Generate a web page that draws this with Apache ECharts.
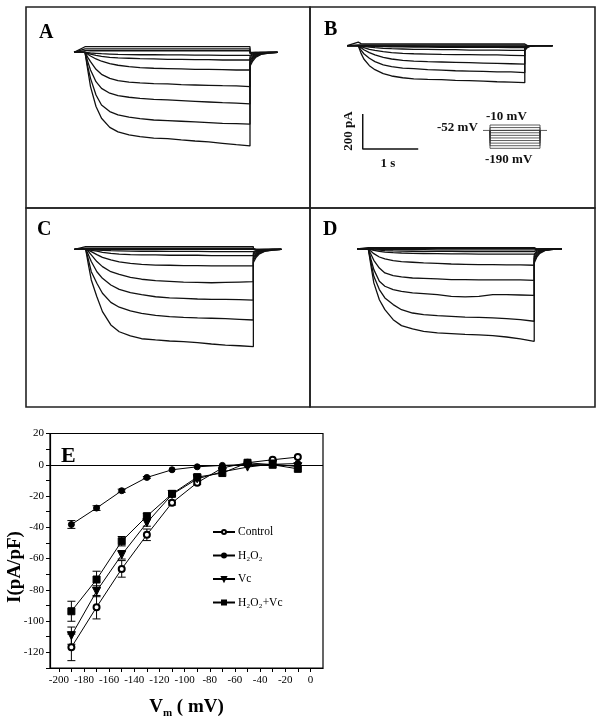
<!DOCTYPE html>
<html><head><meta charset="utf-8">
<script src="https://cdn.jsdelivr.net/npm/echarts@6/dist/echarts.min.js"></script>
<style>html,body{margin:0;padding:0;background:#fff}#c{width:600px;height:723px}</style>
</head><body><div id="c"></div>
<script>
// ---------- Panel E : I-V relation (pA/pF) ----------
const vm = [-190,-170,-150,-130,-110,-90,-70,-50,-30,-10];
const iControl = [-116.8,-91.1,-66.6,-44.8,-24.3,-11.5,-2,1.3,3.2,4.9];
const iH2O2    = [-38.2,-27.7,-16.6,-8.1,-3.2,-1.3,-0.4,0.2,0.3,0.8];
const iVc      = [-109.3,-80.9,-57.6,-37.1,-19,-9,-4.5,-1.5,0.5,-1.2];
const iH2O2Vc  = [-93.7,-73.4,-48.9,-32.9,-18.6,-7.9,-5.3,1.3,0,-2.6];
const eControl = [8.5,7.5,5.3,3.7,1.5,1,0,0,0,0];
const eH2O2    = [2.5,1.5,1,0.6,0,0,0,0,0,0];
const eVc      = [5.5,3.5,2.7,2.2,1,0,0,0,0,0];
const eH2O2Vc  = [6.4,5.3,3,1.8,1,0,0,0,0,0];
const xTickLabels = [-200,-180,-160,-140,-120,-100,-80,-60,-40,-20,0];
const xTicks = [-200,-190,-180,-170,-160,-150,-140,-130,-120,-110,-100,-90,-80,-70,-60,-50,-40,-30,-20,-10,0];

// ---------- Panels A-D : current traces (pA) ----------
const stepVoltages = [-190,-170,-150,-130,-110,-90,-70,-50,-30,-10];
const stepTime = [0,0.05,0.1,0.2,0.3,0.45,0.6,0.8,1,1.25,1.5,1.75,2,2.25,2.5,2.75,3];
const tailTime = [3,3.05,3.1,3.2,3.35,3.5];
const holdingStart = -0.2;

const stepsA = [
 [0,-101,-196,-310,-377,-429,-455,-472,-482,-490,-493,-501,-507,-512,-520,-528,-535],
 [0,-82,-149,-244,-301,-339,-358,-371,-379,-387,-390,-394,-398,-402,-406,-408,-411],
 [0,-53,-101,-168,-206,-234,-248,-257,-263,-269,-272,-276,-280,-284,-288,-291,-295],
 [0,-29,-53,-97,-126,-149,-162,-170,-175,-179,-181,-185,-187,-189,-191,-192,-196],
 [0,-11,-21,-38,-51,-65,-74,-82,-88,-91,-93,-95,-97,-97,-99,-101,-101],
 [0,-6,-10,-17,-23,-29,-32,-34,-36,-38,-40,-40,-42,-42,-44,-44,-44],
 [0,-2,-4,-6,-8,-10,-12,-13,-14,-14,-15,-15,-16,-16,-17,-17,-18],
 [10,10,9,9,9,9,9,9,9,9,9,9,9,9,9,9,9],
 [20,20,20,20,20,20,20,20,20,20,20,20,20,20,20,20,20],
 [32,32,32,32,32,32,32,32,32,32,32,32,32,32,32,32,32]
];
const tailsA = [
 [-80,-50,-30,-12,-4,0],[-68,-42,-25,-10,-3,0],[-56,-35,-20,-8,-2,0],[-45,-28,-16,-6,-2,0],
 [-34,-21,-12,-5,-1,0],[-24,-15,-9,-3,-1,0],[-15,-9,-5,-2,0,0],[-8,-5,-3,-1,0,0],
 [-3,-2,-1,0,0,0],[0,0,0,0,0,0]
];
const stepsB = [
 [0,-44,-76,-114,-137,-160,-173,-183,-189,-192,-194,-198,-200,-202,-206,-208,-211],
 [0,-25,-46,-72,-91,-109,-120,-128,-131,-137,-139,-143,-145,-147,-149,-150,-154],
 [0,-11,-23,-40,-53,-67,-76,-84,-88,-91,-93,-95,-97,-99,-101,-103,-105],
 [0,-6,-11,-21,-27,-34,-40,-44,-46,-48,-50,-51,-51,-53,-53,-55,-57],
 [0,-2,-4,-8,-11,-15,-17,-19,-21,-21,-23,-23,-25,-25,-25,-27,-27],
 [0,-1,-2,-3,-4,-5,-6,-7,-8,-8,-9,-9,-10,-10,-10,-11,-11],
 [0,-1,-1,-2,-2,-3,-3,-4,-4,-4,-5,-5,-5,-5,-6,-6,-6],
 [0,0,0,0,-1,-1,-1,-1,-1,-2,-2,-2,-2,-2,-2,-2,-2],
 [4,4,4,4,4,4,4,4,4,4,4,4,4,4,4,4,4],
 [20,12,10,10,10,10,10,10,10,10,10,10,10,10,10,10,10]
];
const tailsB = [
 [-28,-10,-3,0,0,0],[-22,-8,-2,0,0,0],[-16,-6,-2,0,0,0],[-10,-4,-1,0,0,0],
 [-6,-2,0,0,0,0],[-3,-1,0,0,0,0],[-1,0,0,0,0,0],[0,0,0,0,0,0],[0,0,0,0,0,0],[0,0,0,0,0,0]
];
const stepsC = [
 [0,-90,-175,-271,-356,-432,-471,-495,-511,-518,-524,-528,-533,-541,-547,-551,-556],
 [0,-61,-128,-194,-251,-303,-331,-352,-366,-377,-385,-389,-392,-394,-396,-400,-404],
 [0,-32,-70,-128,-166,-204,-229,-248,-259,-271,-278,-280,-284,-286,-286,-288,-290],
 [0,-13,-32,-70,-99,-128,-143,-160,-171,-179,-183,-187,-189,-191,-189,-187,-185],
 [0,-6,-13,-30,-46,-61,-72,-80,-86,-90,-91,-93,-93,-95,-95,-95,-95],
 [0,-2,-6,-11,-17,-23,-27,-30,-32,-32,-34,-34,-34,-36,-36,-36,-36],
 [0,-1,-2,-4,-6,-8,-9,-10,-11,-11,-12,-12,-12,-13,-13,-13,-13],
 [0,0,0,0,0,0,0,0,0,0,0,0,0,0,0,0,0],
 [6,6,6,6,6,6,6,6,6,6,6,6,6,6,6,6,6],
 [15,15,15,15,15,15,15,15,15,15,15,15,15,15,15,15,15]
];
const tailsC = [
 [-75,-45,-28,-12,-4,0],[-62,-37,-23,-10,-3,0],[-50,-30,-18,-8,-2,0],[-40,-24,-14,-6,-2,0],
 [-30,-18,-10,-4,-1,0],[-20,-12,-7,-3,-1,0],[-12,-7,-4,-2,0,0],[-5,-3,-2,-1,0,0],
 [0,0,0,0,0,0],[0,0,0,0,0,0]
];
const stepsD = [
 [0,-99,-194,-290,-347,-404,-438,-457,-471,-480,-484,-488,-491,-495,-503,-514,-528],
 [0,-80,-156,-232,-280,-318,-347,-366,-375,-381,-385,-389,-391,-394,-398,-404,-413],
 [0,-61,-118,-185,-213,-232,-242,-251,-255,-261,-271,-274,-271,-261,-261,-263,-265],
 [0,-32,-65,-109,-137,-152,-160,-166,-168,-171,-175,-175,-177,-177,-177,-177,-179],
 [0,-13,-27,-46,-57,-67,-72,-76,-80,-82,-86,-88,-90,-90,-91,-91,-93],
 [0,-4,-8,-14,-18,-21,-23,-25,-26,-27,-28,-28,-29,-29,-29,-30,-30],
 [0,-2,-4,-7,-9,-11,-12,-13,-14,-14,-14,-15,-15,-15,-15,-15,-15],
 [0,-1,-1,-2,-3,-3,-4,-4,-4,-5,-5,-5,-5,-5,-5,-5,-5],
 [3,3,3,3,3,3,3,3,3,3,3,3,3,3,3,3,3],
 [8,8,8,8,8,8,8,8,8,8,8,8,8,8,8,8,8]
];
const tailsD = [
 [-80,-45,-25,-8,-2,0],[-68,-38,-21,-7,-2,0],[-55,-31,-17,-6,-1,0],[-44,-25,-14,-5,-1,0],
 [-33,-19,-10,-4,-1,0],[-22,-12,-7,-2,0,0],[-12,-7,-4,-1,0,0],[-5,-3,-1,0,0,0],
 [0,0,0,0,0,0],[0,0,0,0,0,0]
];

// ---------- Voltage protocol & scale bar (panel B) ----------
const protocolLevels = [-10,-30,-50,-70,-90,-110,-130,-150,-170,-190];
const holdingPotential = -52;
const pulseDuration = 3;
const scaleBarCurrent = 200; // pA
const scaleBarTime = 1;      // s

// ---------- build ----------
const SERIF = '"Liberation Serif","DejaVu Serif",serif';
const panelDefs = [
 {grid:{left:26,top:7,width:284,height:201},  x:[-1.073,4.091], y:[-890,259], steps:stepsA, tails:tailsA, label:'A', lx:39, ly:35},
 {grid:{left:310,top:7,width:285,height:201}, x:[-0.870,4.265], y:[-927,221], steps:stepsB, tails:tailsB, label:'B', lx:324, ly:32},
 {grid:{left:26,top:208,width:284,height:199},x:[-1.068,4.013], y:[-901,236], steps:stepsC, tails:tailsC, label:'C', lx:37, ly:232},
 {grid:{left:310,top:208,width:285,height:199},x:[-1.054,4.099],y:[-903,234], steps:stepsD, tails:tailsD, label:'D', lx:323, ly:232}
];

const grids = [], xAxes = [], yAxes = [], series = [], graphics = [];
panelDefs.forEach((p, pi) => {
  grids.push(Object.assign({show:true, borderColor:'#222', borderWidth:1.6, backgroundColor:'transparent'}, p.grid));
  xAxes.push({type:'value', gridIndex:pi, min:p.x[0], max:p.x[1], show:false});
  yAxes.push({type:'value', gridIndex:pi, min:p.y[0], max:p.y[1], show:false});
  p.steps.forEach((row, ti) => {
    const data = [[holdingStart, 0]];
    stepTime.forEach((t, i) => data.push([t, row[i]]));
    tailTime.forEach((t, i) => data.push([t, p.tails[ti][i]]));
    series.push({type:'line', name:'trace'+p.label+stepVoltages[ti], xAxisIndex:pi, yAxisIndex:pi, data,
      showSymbol:false, silent:true, smooth:false, lineStyle:{color:'#111', width:1.3}, animation:false});
  });
  graphics.push({type:'text', left:p.lx, top:p.ly-12, style:{text:p.label, font:'bold 20px '+SERIF, fill:'#000'}});
});

// scale bar in panel B coordinates
const sbT = 0.08, sbI = -590;
series.push({type:'line', xAxisIndex:1, yAxisIndex:1, showSymbol:false, silent:true, animation:false,
  data:[[sbT, sbI+scaleBarCurrent],[sbT, sbI],[sbT+scaleBarTime, sbI]], lineStyle:{color:'#111', width:1.5}});

// protocol inset grid (index 4)
grids.push({left:483, top:125, width:64, height:23.3, show:false});
xAxes.push({type:'value', gridIndex:4, min:-0.42, max:3.42, show:false});
yAxes.push({type:'value', gridIndex:4, min:-190, max:-10, show:false});
protocolLevels.forEach(v => {
  series.push({type:'line', xAxisIndex:4, yAxisIndex:4, showSymbol:false, silent:true, animation:false, clip:false,
    data:[[0,holdingPotential],[0,v],[pulseDuration,v],[pulseDuration,holdingPotential]], lineStyle:{color:'#333', width:0.8}});
});
series.push({type:'line', xAxisIndex:4, yAxisIndex:4, showSymbol:false, silent:true, animation:false, clip:false,
  data:[[-0.42,holdingPotential],[3.42,holdingPotential]], lineStyle:{color:'#333', width:0.8}});

// Panel B annotation texts
const annoFont = 'bold 13px '+SERIF;
graphics.push({type:'text', x:349, y:131, rotation:Math.PI/2, style:{text:'200 pA', font:annoFont, fill:'#111', align:'center', verticalAlign:'middle'}});
graphics.push({type:'text', x:388, y:164, style:{text:'1 s', font:annoFont, fill:'#111', align:'center', verticalAlign:'middle'}});
graphics.push({type:'text', x:437, y:128, style:{text:'-52 mV', font:annoFont, fill:'#111', align:'left', verticalAlign:'middle'}});
graphics.push({type:'text', x:486, y:117, style:{text:'-10 mV', font:annoFont, fill:'#111', align:'left', verticalAlign:'middle'}});
graphics.push({type:'text', x:485, y:160, style:{text:'-190 mV', font:annoFont, fill:'#111', align:'left', verticalAlign:'middle'}});

// ---------- Panel E ----------
const EG = 5;
grids.push({left:50, top:433.5, width:273, height:234.5, show:true, borderColor:'#000', borderWidth:1.2, backgroundColor:'transparent'});
xAxes.push({type:'value', gridIndex:EG, min:-207, max:10,
  name:'{b|V}{s|m}{b| ( mV)}', nameLocation:'middle', nameGap:27,
  nameTextStyle:{rich:{b:{fontFamily:SERIF, fontWeight:'bold', fontSize:19, color:'#000', lineHeight:24},
                       s:{fontFamily:SERIF, fontWeight:'bold', fontSize:11, color:'#000', lineHeight:24, verticalAlign:'bottom', padding:[10,0,0,0]}}},
  axisLine:{onZero:false, lineStyle:{color:'#000', width:1.2}},
  axisTick:{customValues:xTicks, length:4, lineStyle:{color:'#000'}},
  axisLabel:{customValues:xTickLabels, margin:7, fontFamily:SERIF, fontSize:11, color:'#000'},
  splitLine:{show:false}});
yAxes.push({type:'value', gridIndex:EG, min:-130, max:20, interval:10,
  axisLine:{onZero:false, lineStyle:{color:'#000', width:1.2}},
  axisTick:{length:4, lineStyle:{color:'#000'}},
  axisLabel:{margin:6, fontFamily:SERIF, fontSize:11, color:'#000', formatter:v => (v % 20 === 0 ? String(v) : '')},
  splitLine:{show:false}});

const ivSets = [
  {name:'Control',  y:iControl, e:eControl, symbol:'emptyCircle', size:6, rot:0},
  {name:'H₂O₂',     y:iH2O2,    e:eH2O2,    symbol:'circle',      size:6, rot:0},
  {name:'Vc',       y:iVc,      e:eVc,      symbol:'triangle',    size:8, rot:180},
  {name:'H₂O₂+Vc',  y:iH2O2Vc,  e:eH2O2Vc,  symbol:'rect',        size:7, rot:0}
];
ivSets.forEach((s, k) => {
  series.push({type:'custom', name:'err'+k, xAxisIndex:EG, yAxisIndex:EG, silent:true, z:2,
    data: vm.map((v, i) => [v, s.y[i], s.e[i]]),
    renderItem:(params, api) => {
      const x = api.value(0), y = api.value(1), e = api.value(2);
      if (!e) return null;
      const hi = api.coord([x, y + e]), lo = api.coord([x, y - e]);
      const st = {stroke:'#000', lineWidth:1};
      return {type:'group', children:[
        {type:'line', shape:{x1:hi[0], y1:hi[1], x2:lo[0], y2:lo[1]}, style:st},
        {type:'line', shape:{x1:hi[0]-4, y1:hi[1], x2:hi[0]+4, y2:hi[1]}, style:st},
        {type:'line', shape:{x1:lo[0]-4, y1:lo[1], x2:lo[0]+4, y2:lo[1]}, style:st}
      ]};
    }});
  const ser = {type:'line', name:s.name, xAxisIndex:EG, yAxisIndex:EG, z:3, animation:false,
    data: vm.map((v, i) => [v, s.y[i]]),
    symbol:s.symbol, symbolSize:s.size, symbolRotate:s.rot, showAllSymbol:true,
    lineStyle:{color:'#000', width:1}, itemStyle:{color:'#000', borderColor:'#000', borderWidth:1}};
  if (k === 0) {
    ser.markLine = {silent:true, symbol:'none', label:{show:false}, animation:false,
      lineStyle:{color:'#000', type:'solid', width:1.2}, data:[{yAxis:0}]};
  }
  series.push(ser);
});

graphics.push({type:'text', left:61, top:445, style:{text:'E', font:'bold 22px '+SERIF, fill:'#000'}});
graphics.push({type:'text', x:15, y:567, rotation:Math.PI/2, style:{text:'I(pA/pF)', font:'bold 19px '+SERIF, fill:'#000', align:'center', verticalAlign:'middle'}});

const chart = echarts.init(document.getElementById('c'), null, {renderer:'canvas'});
chart.setOption({
  backgroundColor:'#fff',
  animation:false,
  grid:grids, xAxis:xAxes, yAxis:yAxes, series,
  legend:{orient:'vertical', left:207, top:521, itemWidth:22, itemHeight:5, itemGap:11.5,
    data:['Control','H₂O₂','Vc','H₂O₂+Vc'], selectedMode:false,
    textStyle:{fontFamily:SERIF, fontSize:11.5, color:'#000', padding:[0,0,0,-2]}},
  graphic:graphics
});
</script></body></html>
